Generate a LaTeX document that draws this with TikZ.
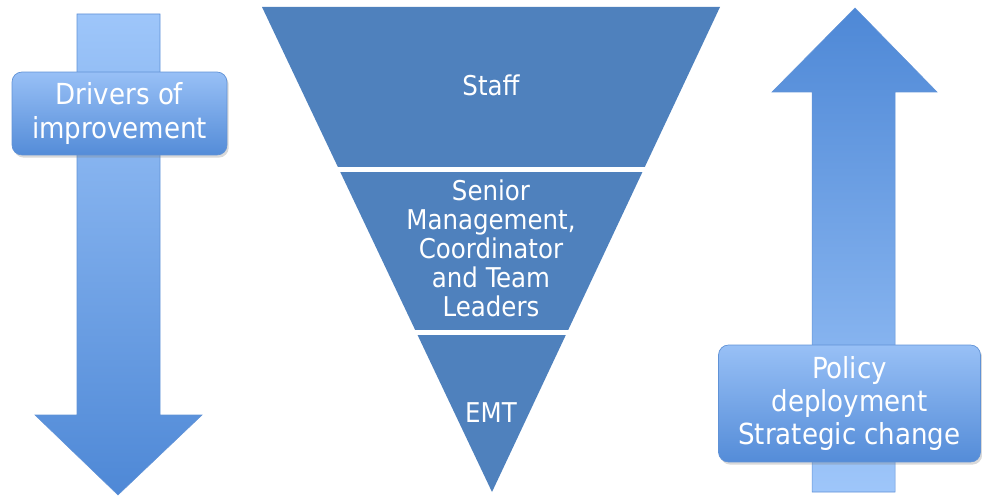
\documentclass[tikz,border=0pt]{standalone}
\usepackage{fontspec}
\setmainfont{DejaVu Sans Condensed}
\usepackage{xcolor}
\usepackage{tikz}
\usetikzlibrary{positioning, shadows}

\definecolor{pyrblue}{RGB}{79,129,189}
\definecolor{arrlight}{RGB}{158,198,250}
\definecolor{arrdark}{RGB}{78,136,214}
\definecolor{boxlight}{RGB}{152,192,246}
\definecolor{boxdark}{RGB}{84,140,216}
\definecolor{boxedge}{RGB}{96,146,214}

\begin{document}
\begin{tikzpicture}[x=0.02cm, y=-0.02cm,
  every node/.style={text=white, align=center},
  lab/.style={font=\fontsize{15.5}{16.5}\selectfont},
  tag/.style={font=\fontsize{16.5}{18.8}\selectfont, rounded corners=0.2cm,
    draw=boxedge, top color=boxlight, bottom color=boxdark,
    drop shadow={opacity=0.3, shadow xshift=1pt, shadow yshift=-1.5pt}}]
\useasboundingbox (0,0) rectangle (982,499);

% Left arrow: drivers of improvement (pointing down)
\shade[top color=arrlight, bottom color=arrdark, draw=boxedge, line width=0.3pt]
  (77,14) -- (160,14) -- (160,415) -- (202,415) -- (118,495)
  -- (35,415) -- (77,415) -- cycle;
\node[tag, minimum width=4.3cm, minimum height=1.66cm] (drivers) at (119.5,113.5)
  {\raisebox{-3pt}{\parbox{4cm}{\centering Drivers of\\improvement}}};

% Inverted pyramid
\fill[pyrblue] (262,7) -- (720,7) -- (492,492) -- cycle;
\draw[white, line width=0.09cm] (300,169.5) -- (690,169.5);
\draw[white, line width=0.09cm] (380,332.5) -- (610,332.5);
\node[lab] (staff) at (491,85) {Staff};
\node[lab] (senior) at (491,248) {Senior\\Management,\\Coordinator\\and Team\\Leaders};
\node[lab] (emt) at (491,413) {EMT};

% Right arrow: policy deployment (pointing up)
\shade[top color=arrdark, bottom color=arrlight, draw=boxedge, line width=0.3pt]
  (855,8) -- (937,92) -- (895,92) -- (895,492) -- (812,492)
  -- (812,92) -- (772,92) -- cycle;
\node[tag, minimum width=5.24cm, minimum height=2.34cm] (policy) at (849.5,403.5)
  {\raisebox{-3pt}{\parbox{5cm}{\centering Policy\\deployment\\Strategic change}}};
\end{tikzpicture}
\end{document}
